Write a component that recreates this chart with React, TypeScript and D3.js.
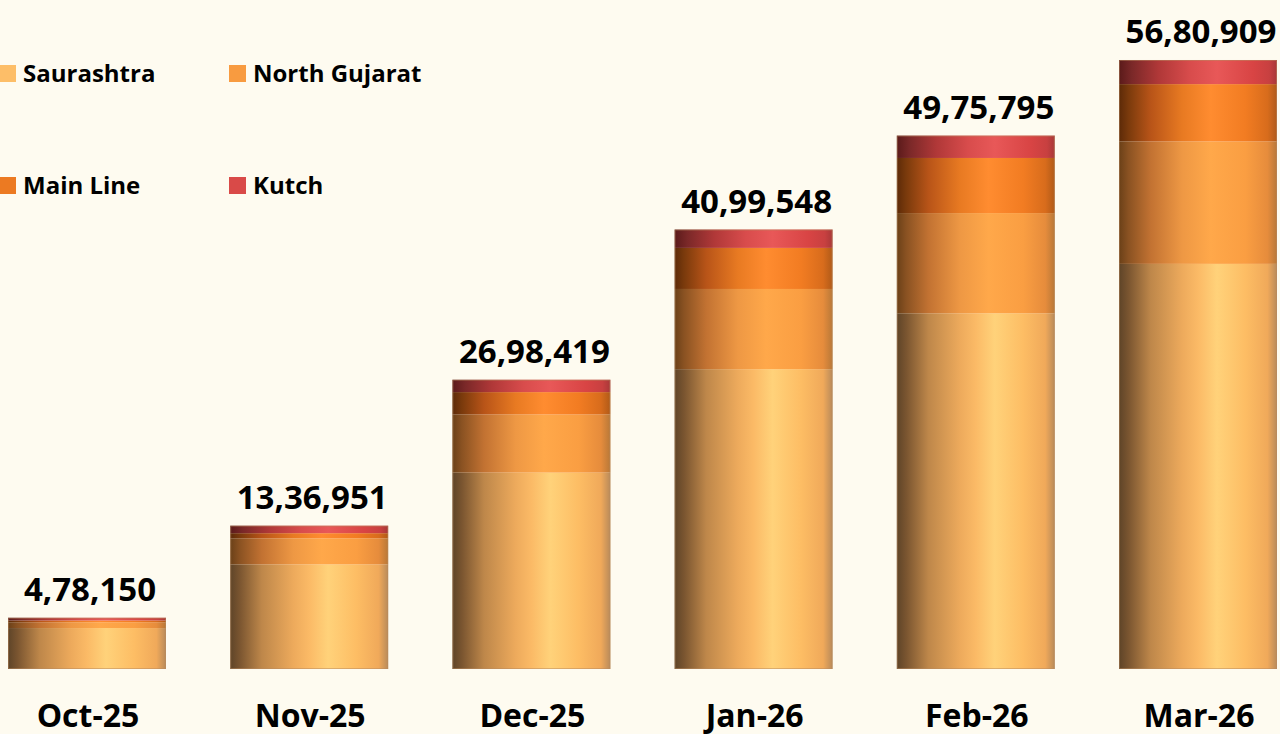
import React from "react";
import * as d3 from "d3";

const categories = ["Oct-25", "Nov-25", "Dec-25", "Jan-26", "Feb-26", "Mar-26"];
const seriesNames = ["Saurashtra", "North Gujarat", "Main Line", "Kutch"];
const saurashtra = [382000, 976000, 1832000, 2797000, 3318000, 3779000];
const northGujarat = [54000, 243000, 542000, 748000, 935000, 1142000];
const mainLine = [16500, 48000, 209000, 383000, 514000, 535000];
const kutch = [25650, 69951, 115419, 171548, 208795, 224909];
const totals = [478150, 1336951, 2698419, 4099548, 4975795, 5680909];
const colors = ["#FDBE68", "#F89B40", "#EC7A22", "#D94A48"];

// cylinder shading stops per series: [offset, colour]
const shades: [number, string][][] = [
  [[0, "#5E4428"], [0.06, "#7A5530"], [0.2, "#BE874A"], [0.4, "#EDAA5C"], [0.5, "#FBBA66"], [0.62, "#FFD27A"], [0.8, "#FDBD64"], [0.94, "#F0A95A"], [1, "#B88A5A"]],
  [[0, "#6A4018"], [0.06, "#8A5222"], [0.2, "#C27232"], [0.4, "#EE9844"], [0.58, "#FFA84A"], [0.8, "#FA9E42"], [0.94, "#E68C3C"], [1, "#B87838"]],
  [[0, "#5C2A08"], [0.06, "#7A3A0C"], [0.2, "#B85418"], [0.4, "#E87A22"], [0.58, "#FF8C30"], [0.8, "#F27C22"], [0.94, "#D86C1C"], [1, "#B05A18"]],
  [[0, "#5A1A1A"], [0.08, "#7A2828"], [0.25, "#B03838"], [0.45, "#D84C4C"], [0.62, "#E85858"], [0.85, "#D84444"], [0.95, "#C84040"], [1, "#A83838"]],
];

const W = 1280;
const H = 734;

function indianFormat(n: number): string {
  const s = String(Math.round(n));
  if (s.length <= 3) return s;
  const last3 = s.slice(-3);
  let rest = s.slice(0, -3);
  const parts: string[] = [];
  while (rest.length > 2) {
    parts.unshift(rest.slice(-2));
    rest = rest.slice(0, -2);
  }
  if (rest.length) parts.unshift(rest);
  return parts.join(",") + "," + last3;
}

export default function App() {
  const seriesValues = [saurashtra, northGujarat, mainLine, kutch];
  const rows = categories.map((c, i) => {
    const r: any = { cat: c };
    seriesNames.forEach((s, k) => (r[s] = seriesValues[k][i]));
    return r;
  });
  const stacked = d3.stack<any>().keys(seriesNames)(rows);

  const x = d3
    .scaleBand<string>()
    .domain(categories)
    .range([8, 1277])
    .paddingInner(0.289)
    .paddingOuter(0);
  const y = d3.scaleLinear().domain([0, 6240600]).range([669, 0]);
  const bw = x.bandwidth();
  const font = "'Open Sans', 'Noto Sans', sans-serif";

  return (
    <svg
      width={W}
      height={H}
      style={{ position: "absolute", left: 0, top: 0, background: "#FEFBF0" }}
    >
      <defs>
        {shades.map((st, k) => (
          <linearGradient key={k} id={"cyl" + k} x1="0" x2="1" y1="0" y2="0">
            {st.map(([o, c], j) => (
              <stop key={j} offset={o} stopColor={c} />
            ))}
          </linearGradient>
        ))}
      </defs>
      <rect x={0} y={0} width={W} height={H} fill="#FEFBF0" />
      {stacked.map((layer, k) => (
        <g key={seriesNames[k]}>
          {layer.map((d, i) => (
            <rect
              key={categories[i]}
              x={x(categories[i])}
              y={y(d[1])}
              width={bw}
              height={y(d[0]) - y(d[1])}
              fill={"url(#cyl" + k + ")"}
            />
          ))}
        </g>
      ))}
      {categories.map((c, i) => (
        <rect
          key={"b" + c}
          x={x(c)! + 0.5}
          y={y(totals[i]) + 0.5}
          width={bw - 1}
          height={y(0) - y(totals[i]) - 1}
          fill="none"
          stroke="#B88A60"
          strokeOpacity={0.5}
          strokeWidth={1}
        />
      ))}
      {categories.map((c, i) => (
        <text
          key={"v" + c}
          x={x(c)! + bw / 2 + 3}
          y={y(totals[i]) - 17}
          textAnchor="middle"
          fontFamily={font}
          fontWeight={700}
          fontSize={33}
          fill="#000"
        >
          {indianFormat(totals[i])}
        </text>
      ))}
      {categories.map((c) => (
        <text
          key={"c" + c}
          x={x(c)! + bw / 2 + 1}
          y={727}
          textAnchor="middle"
          fontFamily={font}
          fontWeight={700}
          fontSize={32}
          fill="#000"
        >
          {c}
        </text>
      ))}
      {seriesNames.map((s, k) => {
        const col = k % 2;
        const row = Math.floor(k / 2);
        const lx = col === 0 ? -1 : 229;
        const ly = row === 0 ? 82 : 194;
        return (
          <g key={"l" + s}>
            <rect x={lx} y={ly - 17} width={17} height={17} fill={colors[k]} />
            <text
              x={lx + 24}
              y={ly}
              fontFamily={font}
              fontWeight={700}
              fontSize={24}
              fill="#000"
            >
              {s}
            </text>
          </g>
        );
      })}
    </svg>
  );
}
